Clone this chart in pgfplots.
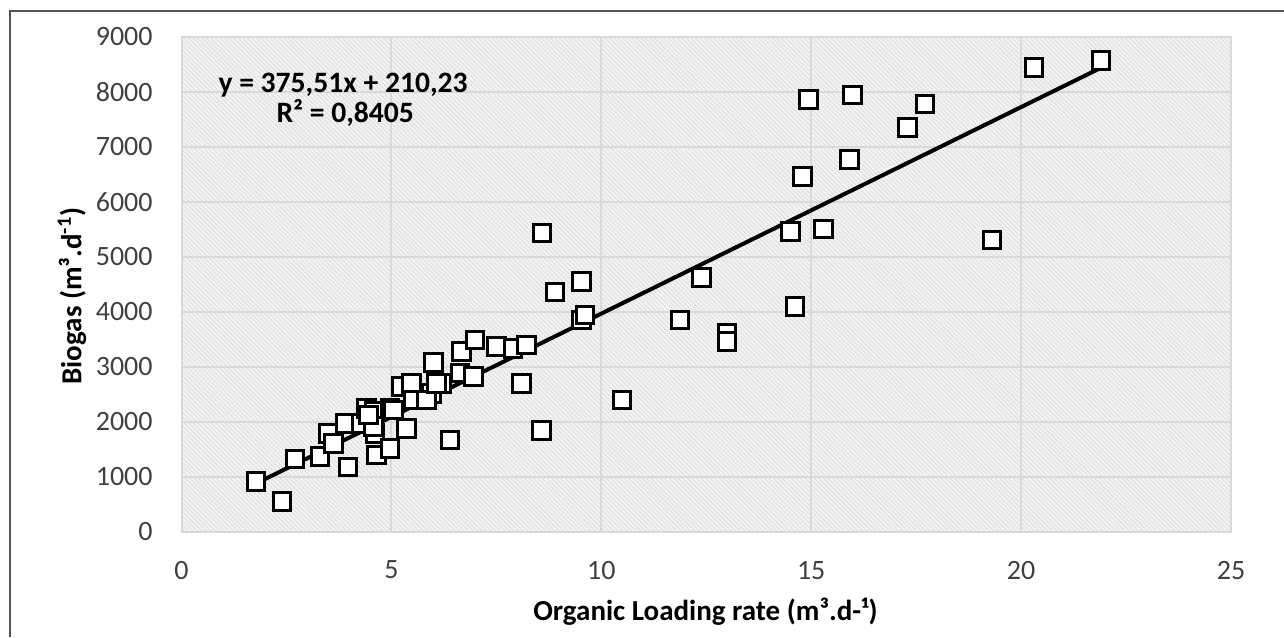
\documentclass[border=0pt]{standalone}
\usepackage{fontspec}
\setmainfont{Carlito}
\usepackage{pgfplots}
\pgfplotsset{compat=1.18}
\usetikzlibrary{patterns.meta}
\definecolor{gridc}{HTML}{D9D9D9}
\definecolor{hbg}{HTML}{F3F3F3}
\definecolor{hln}{HTML}{DCDCDC}
\definecolor{tickc}{HTML}{404040}
\definecolor{framec}{HTML}{555555}
\begin{document}
\begin{tikzpicture}
\path[use as bounding box] (0,0) rectangle (642pt,318.5pt);
\draw[framec, line width=1pt] (5pt,0) -- (5pt,313pt) -- (642pt,313pt);
\begin{axis}[
  at={(90.75pt,52.65pt)}, anchor=south west,
  scale only axis, width=524.75pt, height=247.5pt,
  xmin=0, xmax=25, ymin=0, ymax=9000,
  xtick={0,5,...,25}, ytick={0,1000,...,9000},
  major tick length=0pt,
  grid=major,
  major grid style={gridc, line width=1pt},
  axis line style={gridc, line width=1pt},
  axis background/.style={fill=hbg, postaction={pattern={Lines[angle=-45,distance=1.6pt,line width=0.4pt]}, pattern color=hln}},
  /pgf/number format/assume math mode=true,
  /pgf/number format/1000 sep={},
  tick label style={font=\fontsize{14}{16}\selectfont, text=tickc},
  xticklabel style={anchor=center, yshift=-19.2pt},
  yticklabel style={anchor=east, inner sep=0pt, xshift=-14.25pt},
  clip=false,
]
\addplot[only marks, mark=square*, mark size=4.4pt, mark options={fill=white, draw=black, line width=1.5pt}] coordinates {
(1.77,909) (2.39,545) (2.70,1322) (3.30,1364) (3.97,1180) (3.50,1788)
(3.62,1606) (3.89,1970) (4.29,1970) (4.41,2242) (4.59,2182) (4.61,1788)
(4.65,1394) (4.97,2242) (4.97,1515) (5.36,1879) (5.24,2636) (5.48,2700)
(5.52,2394) (5.96,2515) (6.00,3073) (6.20,2700) (6.40,1667) (6.63,2885)
(6.67,3273) (6.95,2818) (6.99,3485) (7.51,3364) (7.90,3333) (8.22,3394)
(8.10,2697) (8.58,1836) (8.59,5430) (8.90,4360) (9.53,4545) (9.53,3849)
(9.61,3940) (10.49,2394) (11.87,3849) (12.39,4625) (12.99,3606) (12.99,3455)
(14.50,5455) (14.61,4091) (15.29,5503) (14.79,6455) (14.93,7861) (15.98,7940)
(15.91,6770) (17.30,7352) (17.71,7776) (19.31,5303) (20.31,8443) (21.90,8564)
(5.84,2394) (6.08,2697) (4.57,1909) (5.05,2212) (4.45,2120)
};
\addplot[black, line width=2pt] coordinates {(1.77,874.9) (21.9,8433.9)};
\node[font=\bfseries\fontsize{14.8}{16}\selectfont, anchor=center] at (axis cs:3.85,8122) {y = 375,51x + 210,23};
\node[font=\bfseries\fontsize{14.8}{16}\selectfont, anchor=center] at (axis cs:3.9,7613) {R² = 0,8405};
\end{axis}
\node[font=\bfseries\fontsize{14.5}{16}\selectfont, anchor=base] at (352.75pt,8.5pt) {Organic Loading rate (m³.d-¹)};
\node[font=\bfseries\fontsize{14.5}{16}\selectfont, anchor=center, rotate=90] at (36pt,170.5pt) {Biogas (m³.d\textsuperscript{-1})};
\end{tikzpicture}
\end{document}
